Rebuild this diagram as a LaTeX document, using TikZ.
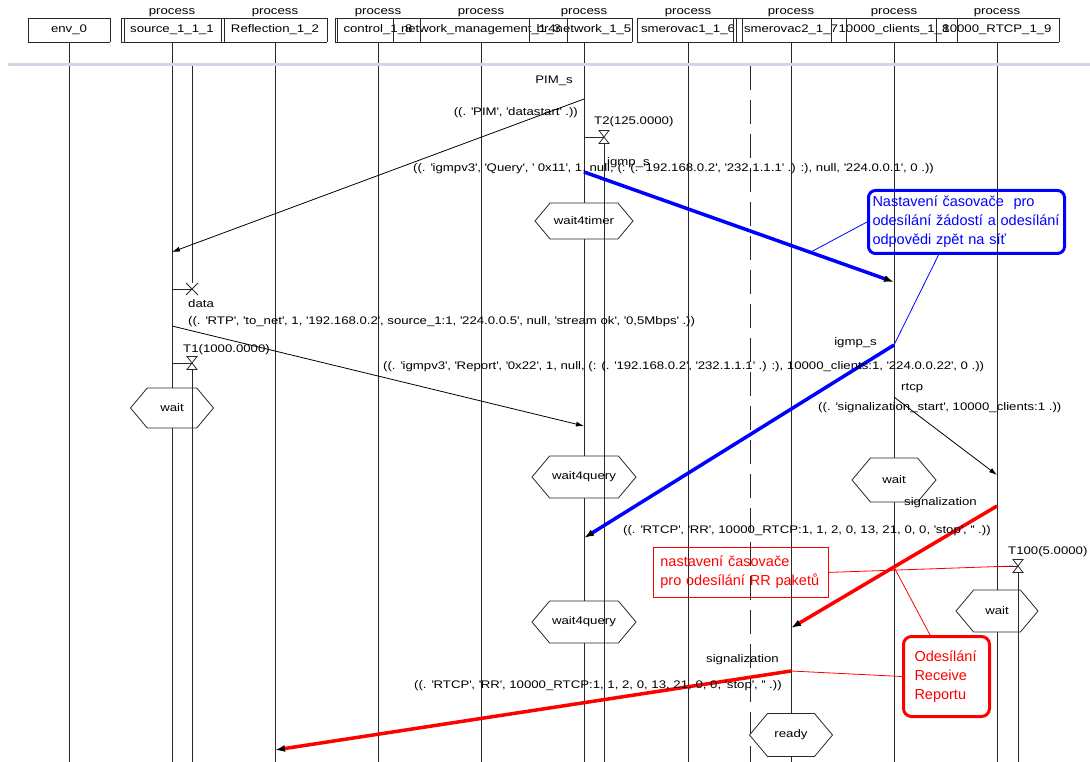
\documentclass[tikz,border=0pt]{standalone}
\usepackage{fontspec}
\setmainfont{Liberation Sans}
\newfontfamily\sdlfont{Liberation Sans}[FakeStretch=1.2]
\usetikzlibrary{arrows.meta, shapes.geometric, shapes.symbols, positioning}
\definecolor{lifegray}{RGB}{40,40,40}
\definecolor{sepblue}{RGB}{208,214,232}
\definecolor{noteblue}{RGB}{0,0,255}
\definecolor{notered}{RGB}{255,0,0}
\newcommand{\sq}[1]{\textquotesingle#1\textquotesingle}

\begin{document}
\begin{tikzpicture}[x=1pt, y=-1pt,
  sdl/.style={font=\sdlfont\fontsize{11}{13}\selectfont, inner sep=0pt},
  note/.style={font=\fontsize{14.5}{19}\selectfont, align=left, inner ysep=0pt},
  life/.style={draw=lifegray, line width=0.8pt},
  msg/.style={draw=black, line width=0.8pt, -{Latex[length=8pt,width=5pt]}},
  bluemsg/.style={draw=noteblue, line width=3.5pt, -{Latex[length=10pt,width=7pt,color=black]}},
  redmsg/.style={draw=notered, line width=3.5pt, -{Latex[length=10pt,width=7pt,color=black]}},
  statebox/.style={signal, signal to=east and west, signal pointer angle=100,
    draw=lifegray, fill=white, line width=0.8pt, sdl},
  hourglass/.pic={\draw[lifegray, line width=0.8pt] (-5,-6.5) -- (5,-6.5) -- (-5,6.5) -- (5,6.5) -- cycle;},
  stopmark/.pic={\draw[lifegray, line width=0.8pt] (-6,-6) -- (6,6) (-6,6) -- (6,-6);}
]
  \useasboundingbox (0,0) rectangle (1090,762);
  % Process heads and lifelines
  \foreach \x/\nm/\lbl in {69/env/env\_0, 172/src/source\_1\_1\_1, 275/refl/Reflection\_1\_2,
      378/ctrl/control\_1\_8, 481/netm/network\_management\_1\_3, 584/net/br4network\_1\_5,
      688/smA/smerovac1\_1\_6, 791/smB/smerovac2\_1\_7, 894/cli/10000\_clients\_1\_8,
      997/rtcp/10000\_RTCP\_1\_9}{
    \node[sdl, minimum height=24pt] (\nm) at (\x,30) {\lbl};
    \draw[life] (\nm.south) -- (\nm.south |- 0,762);
  }
  \foreach \nm in {src, refl, ctrl, netm, net, smA, smB, cli, rtcp}{
    \node[sdl] (\nm-proc) at (\nm |- 0,13) {process};
  }
  % Head boxes
  \foreach \xa/\xb in {28/110, 121/327, 335/632, 637/1059}{
    \draw[life] (\xa,18) -- (\xb,18) (\xa,42) -- (\xb,42);
  }
  \foreach \x in {28,110,121,124,221,224,327,335,337,393,420,529,567,632,637,733,736,742,831,846,936,957,1059}{
    \draw[life] (\x,18) -- (\x,42);
  }
  % Separator
  \fill[sepblue] (8,63) rectangle (1090,66);
  \draw[life, dash pattern=on 24pt off 10pt] (750,66) -- (750,762);

  % Timer lines
  \draw[life] (192,66) -- (192,283);
  \draw[life] (src |- 0,289) -- (192,289) coordinate (stop1);
  \pic at (stop1) {stopmark};
  \draw[life] (src |- 0,363) -- (192,363) coordinate (t1);
  \draw[life] (net |- 0,137) -- (604,137) coordinate (t2);
  \draw[life] (rtcp |- 0,566) -- (1018,566) coordinate (t100);

  % States
  \node[statebox, minimum width=98pt, minimum height=36pt] (st-timer) at (584,221) {wait4timer};
  \node[statebox, minimum width=83pt, minimum height=40pt] (st-wait1) at (172,408) {wait};
  \node[statebox, minimum width=104pt, minimum height=42pt] (st-query1) at (584,477) {wait4query};
  \node[statebox, minimum width=84pt, minimum height=44pt] (st-wait2) at (894,480) {wait};
  \node[statebox, minimum width=104pt, minimum height=42pt] (st-query2) at (584,622) {wait4query};
  \node[statebox, minimum width=82pt, minimum height=42pt] (st-wait3) at (997,611) {wait};
  \node[statebox, minimum width=83pt, minimum height=43pt] (st-ready) at (791,735) {ready};

  % Running timers
  \pic at (t1) {hourglass};
  \pic at (t2) {hourglass};
  \pic at (t100) {hourglass};
  \draw[life] ([yshift=-6.5pt]t1) -- (t1 |- 0,762);
  \draw[life] ([yshift=-6.5pt]t2) -- (t2 |- 0,762);
  \draw[life] ([yshift=-6.5pt]t100) -- (t100 |- 0,762);
  \node[sdl, anchor=west] (t1-lbl) at (183,350) {T1(1000.0000)};
  \node[sdl, anchor=west] (t2-lbl) at (594,122) {T2(125.0000)};
  \node[sdl, anchor=west] (t100-lbl) at (1008,552) {T100(5.0000)};

  % Messages
  \draw[msg] (net |- 0,99) -- (src |- 0,252);
  \node[sdl, anchor=east] (pim-name) at (573,81) {PIM\_s};
  \node[sdl, anchor=east] (pim-par) at (578,113) {((. \sq{PIM}, \sq{datastart} .))};

  \draw[bluemsg] (net |- 0,172) -- coordinate[pos=0.73] (q-mid) (cli |- 0,282);
  \node[sdl, anchor=west] (q-par) at (413,169)
    {((. \sq{igmpv3}, \sq{Query}, \sq{ 0x11}, 1, null, (: (. \sq{192.168.0.2}, \sq{232.1.1.1} .) :), null, \sq{224.0.0.1}, 0 .))};
  \node[sdl, anchor=west] (q-name) at (607,163) {igmp\_s};

  \draw[msg] (src |- 0,326) -- (net |- 0,426);
  \node[sdl, anchor=west] (rtp-name) at (188,304) {data};
  \node[sdl, anchor=west] (rtp-par) at (188,322)
    {((. \sq{RTP}, \sq{to\_net}, 1, \sq{192.168.0.2}, source\_1:1, \sq{224.0.0.5}, null, \sq{stream ok}, \sq{0,5Mbps} .))};

  \draw[bluemsg] (cli |- 0,345) coordinate (rep-s) -- (net |- 0,538);
  \node[sdl, anchor=east] (rep-name) at (877,343) {igmp\_s};
  \node[sdl, anchor=west] (rep-par) at (383,367)
    {((. \sq{igmpv3}, \sq{Report}, \sq{0x22}, 1, null, (: (. \sq{192.168.0.2}, \sq{232.1.1.1} .) :), 10000\_clients:1, \sq{224.0.0.22}, 0 .))};

  \draw[msg] (cli |- 0,397) -- (rtcp |- 0,475);
  \node[sdl, anchor=west] (sig-name) at (901,388) {rtcp};
  \node[sdl, anchor=west] (sig-par) at (818,408) {((. \sq{signalization\_start}, 10000\_clients:1 .))};

  \draw[redmsg] (rtcp |- 0,506) -- coordinate[pos=0.5] (rr-mid) (smB |- 0,628);
  \node[sdl, anchor=east] (rr1-name) at (977,503) {signalization};
  \node[sdl, anchor=west] (rr1-par) at (623,531)
    {((. \sq{RTCP}, \sq{RR}, 10000\_RTCP:1, 1, 2, 0, 13, 21, 0, 0, \sq{stop}, \sq{} .))};

  \draw[redmsg] (smB |- 0,671) coordinate (rr2-s) -- (refl |- 0,750);
  \node[sdl, anchor=east] (rr2-name) at (779,660) {signalization};
  \node[sdl, anchor=west] (rr2-par) at (414,686)
    {((. \sq{RTCP}, \sq{RR}, 10000\_RTCP:1, 1, 2, 0, 13, 21, 0, 0, \sq{stop}, \sq{} .))};

  % Notes
  \node[note, text=noteblue, draw=noteblue, line width=3pt, rounded corners=7pt,
    anchor=north west, text width=188pt, inner xsep=4pt, minimum height=63pt]
    (bnote) at (867,189) {Nastavení časovače~ pro\\odesílání žádostí a odesílání\\odpovědi zpět na síť};
  \coordinate (bnote-foot) at (940,252);
  \draw[noteblue, line width=0.8pt] (bnote.west) -- (q-mid);
  \draw[noteblue, line width=0.8pt] (bnote-foot) -- (rep-s);

  \node[note, text=notered, draw=notered, line width=0.8pt,
    anchor=north west, text width=161pt, inner xsep=7pt, minimum height=50pt]
    (rnote) at (653,547) {nastavení časovače\\pro odesílání RR paketů};
  \draw[notered, line width=0.8pt] (rnote.east) -- ([xshift=-5pt]t100);

  \node[note, text=notered, draw=notered, line width=3pt, rounded corners=8pt,
    anchor=north west, text width=64pt, inner xsep=11pt, minimum height=80pt]
    (onote) at (902,635) {Odesílání\\Receive\\Reportu};
  \coordinate (onote-top) at (930,635);
  \draw[notered, line width=0.8pt] (onote.west) -- (rr2-s);
  \draw[notered, line width=0.8pt] (onote-top) -- (rr-mid);
\end{tikzpicture}
\end{document}
